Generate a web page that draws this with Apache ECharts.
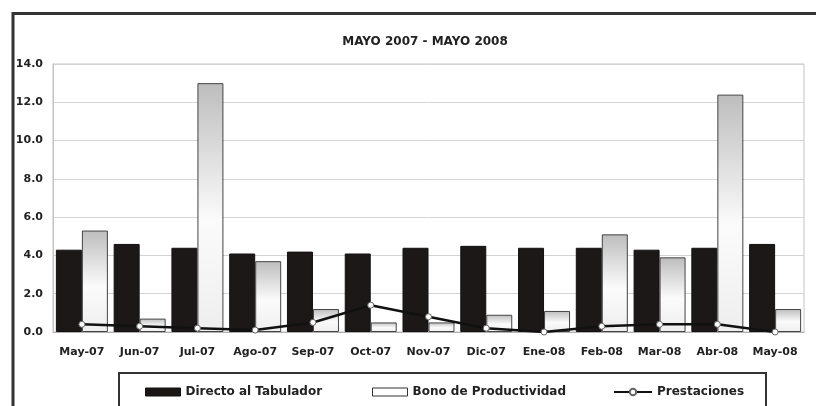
<!DOCTYPE html>
<html>
<head>
<meta charset="utf-8">
<script src="https://cdn.jsdelivr.net/npm/echarts/dist/echarts.min.js"></script>
<style>html,body{margin:0;padding:0;background:#fff;}#c{width:816px;height:406px;}</style>
</head>
<body>
<div id="c"></div>
<script>
var categories = ['May-07','Jun-07','Jul-07','Ago-07','Sep-07','Oct-07','Nov-07','Dic-07','Ene-08','Feb-08','Mar-08','Abr-08','May-08'];
var directo = [4.3, 4.6, 4.4, 4.1, 4.2, 4.1, 4.4, 4.5, 4.4, 4.4, 4.3, 4.4, 4.6];
var bono = [5.3, 0.7, 13.0, 3.7, 1.2, 0.5, 0.5, 0.9, 1.1, 5.1, 3.9, 12.4, 1.2];
var prestaciones = [0.4, 0.3, 0.2, 0.1, 0.5, 1.4, 0.8, 0.2, 0.0, 0.3, 0.4, 0.4, 0.0];
var yTicks = {min: 0, max: 14, interval: 2};
var titleText = 'MAYO 2007 - MAYO 2008';
var seriesNames = ['Directo al Tabulador', 'Bono de Productividad', 'Prestaciones'];

var FONT = 'DejaVu Sans';
var chart = echarts.init(document.getElementById('c'), null, {renderer: 'canvas'});
var legendText = {fontFamily: FONT, fontWeight: 'bold', fontSize: 12, color: '#222'};
chart.setOption({
  animation: false,
  backgroundColor: '#fff',
  title: {
    text: titleText, left: 420, top: 31, textAlign: 'center',
    textStyle: {fontFamily: FONT, fontWeight: 'bold', fontSize: 12, color: '#222'}
  },
  graphic: [
    {type: 'polyline', shape: {points: [[13, 420], [13, 13.5], [830, 13.5]]}, style: {stroke: '#333', lineWidth: 3, fill: null}, z: 100},
    {type: 'rect', shape: {x: 119, y: 373, width: 647, height: 50}, style: {stroke: '#333', lineWidth: 2, fill: null}, z: 100}
  ],
  legend: [
    {left: 140, top: 381, itemWidth: 35, itemHeight: 8, textStyle: legendText, selectedMode: false,
     data: [{name: seriesNames[0], icon: 'rect', itemStyle: {color: '#1a1616', borderColor: '#111', borderWidth: 1}}]},
    {left: 367, top: 381, itemWidth: 35, itemHeight: 8, textStyle: legendText, selectedMode: false,
     data: [{name: seriesNames[1], icon: 'rect', itemStyle: {color: '#fff', borderColor: '#333', borderWidth: 1}}]},
    {left: 608, top: 381, itemWidth: 38, itemHeight: 8, textStyle: legendText, selectedMode: false,
     data: [{name: seriesNames[2]}]}
  ],
  grid: {left: 53, right: 12, top: 64, bottom: 74, show: true, borderColor: '#c4c4c4', borderWidth: 1},
  xAxis: {
    type: 'category', data: categories,
    axisLine: {lineStyle: {color: '#b0b0b0'}},
    axisTick: {show: false},
    axisLabel: {fontFamily: FONT, fontWeight: 'bold', fontSize: 11, color: '#222', margin: 15, interval: 0}
  },
  yAxis: {
    type: 'value', min: yTicks.min, max: yTicks.max, interval: yTicks.interval,
    axisLine: {show: true, lineStyle: {color: '#c4c4c4'}},
    axisTick: {show: false},
    splitLine: {lineStyle: {color: '#d4d4d4'}},
    axisLabel: {fontFamily: FONT, fontWeight: 'bold', fontSize: 11, color: '#222', margin: 10,
      formatter: function (v) { return v.toFixed(1); }}
  },
  series: [
    {name: seriesNames[0], type: 'bar', data: directo, barGap: '0%', barCategoryGap: '10%',
     itemStyle: {color: '#1c1818', borderColor: '#111', borderWidth: 1}},
    {name: seriesNames[1], type: 'bar', data: bono,
     itemStyle: {
       color: new echarts.graphic.LinearGradient(0, 0, 0, 1, [
         {offset: 0, color: '#bdbdbd'}, {offset: 0.55, color: '#fbfbfb'}, {offset: 1, color: '#eeeeee'}
       ]),
       borderColor: '#444', borderWidth: 1
     }},
    {name: seriesNames[2], type: 'line', data: prestaciones, symbol: 'circle', symbolSize: 6,
     lineStyle: {color: '#111', width: 2.5},
     itemStyle: {color: '#fff', borderColor: '#666', borderWidth: 1}, z: 5}
  ]
});
</script>
</body>
</html>
